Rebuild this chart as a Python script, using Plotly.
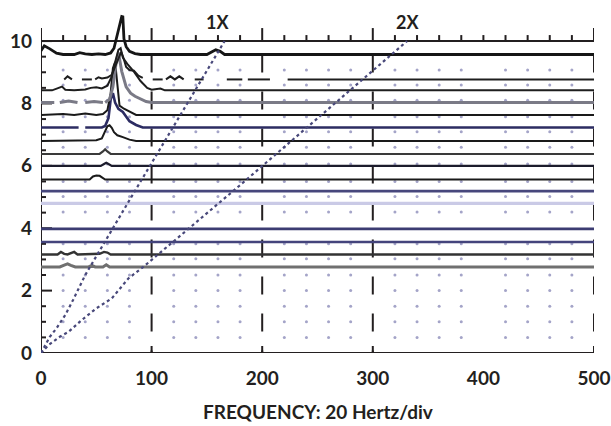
import plotly.graph_objects as go

# ---------------- data ----------------
# baseline (y) of every spectrum trace
levels = [9.57, 8.77, 8.42, 8.03, 7.63, 7.23, 6.80, 6.38, 6.00, 5.56, 5.19, 4.80, 3.98, 3.56, 3.16, 2.76]

# each trace: frequency points (Hz) and amplitude above its baseline (None = gap)
r957_f = [0, 3, 8, 14, 20, 30, 35, 40, 46, 52, 58, 63, 66, 69, 71, 73, 74, 75, 77, 80, 85, 90, 150, 154, 158, 162, 166, 500]
r957_a = [0.12, 0.28, 0.18, 0.04, 0.0, 0.0, 0.06, 0.02, 0.0, 0.02, 0.0, 0.05, 0.2, 0.6, 0.9, 1.22, 1.21, 0.5, 0.25, 0.1, 0.03, 0.0, 0.0, 0.08, 0.15, 0.1, 0.0, 0.0]

r877_f = [21, 24, 28, None, 37, 46, None, 49, 52, 55, 60, 64, 68, 71, 72.5, 74, 77, 80, 84, 88, 92, None,
          101, 110, None, 113, 117, 121, 125, 129, None, 139, 147, None, 168, 182, None, 187, 207, None, 223, 500]
r877_a = [0, 0.1, 0, None, 0, 0, None, 0, 0.07, 0.03, 0.06, 0.15, 0.5, 0.8, 0.88, 0.75, 0.4, 0.3, 0.28, 0.12, 0.05, None,
          0, 0, None, 0, 0.1, 0, 0.1, 0, None, 0, 0, None, 0, 0, None, 0, 0, None, 0, 0]

r842_f = [0, 10, 16, 19, 22, 30, 40, 45, 50, 55, 60, 64, 67, 70, 72, 74, 78, 84, 90, 96, 100, 108, 112, 116, 500]
r842_a = [0, 0, 0.08, 0.12, 0.02, 0, 0.03, 0.08, 0.1, 0.06, 0.15, 0.45, 0.9, 1.3, 1.35, 1.05, 0.85, 0.6, 0.3, 0.08, 0.02, 0.06, 0, 0, 0]

r803_f = [0, 12, None, 17, 25, 33, None, 40, 48, 56, None, 58, 62, 65, 68, 70, 73, 77, 81, 85, 90, 95, 100, 500]
r803_a = [0, 0, None, 0, 0.05, 0, None, 0, 0.03, 0, None, 0, 0.1, 0.5, 1.3, 1.6, 1.0, 0.5, 0.3, 0.2, 0.12, 0.03, 0, 0]

r763_f = [0, 20, 30, 40, 50, 56, 60, 63, 65, 67, 69, 71, 75, 80, 86, 500]
r763_a = [0, 0.03, 0, 0.05, 0, 0.03, 0.15, 0.7, 1.5, 1.7, 1.0, 0.3, 0.2, 0.1, 0, 0]

r723_f = [0, 34, None, 40, 55, 58, 61, 63, 65, 67, 70, 74, 80, 86, 92, 500]
r723_a = [0, 0, None, 0, 0, 0.05, 0.3, 0.9, 1.1, 0.8, 0.6, 0.5, 0.2, 0.08, 0, 0]

r680_f = [0, 40, 50, 55, 58, 60, 62, 64, 66, 69, 74, 80, 86, 500]
r680_a = [0, 0, 0.02, 0.08, 0.3, 0.47, 0.5, 0.42, 0.28, 0.18, 0.12, 0.04, 0, 0]

r638_f = [0, 53, 56, 58, 60, 63, 500]
r638_a = [0, 0, 0.08, 0.15, 0.08, 0, 0]

r600_f = [0, 54, 57, 59, 61, 64, 500]
r600_a = [0, 0, 0.06, 0.1, 0.06, 0, 0]

r556_f = [0, 44, 47, 50, 53, 56, 58, 500]
r556_a = [0, 0, 0.1, 0.13, 0.12, 0.04, 0, 0]

r519_f = [0, 500]
r519_a = [0, 0]

r480_f = [0, 500]
r480_a = [0, 0]

r398_f = [0, 500]
r398_a = [0, 0]

r356_f = [0, 500]
r356_a = [0, 0]

r316_f = [0, 15, 18, 21, 24, 27, 30, 33, 50, 53, 57, 60, 63, 500]
r316_a = [0, 0, 0.08, 0.02, 0, 0.03, 0.08, 0, 0, 0.02, 0.08, 0.06, 0, 0]

r276_f = [0, 17, 21, 24, 27, 31, 43, 46, 49, 56, 59, 62, 500]
r276_a = [0, 0, 0.06, 0.1, 0.05, 0, 0, 0.05, 0, 0, 0.07, 0, 0]

trace_f = [r957_f, r877_f, r842_f, r803_f, r763_f, r723_f, r680_f, r638_f,
           r600_f, r556_f, r519_f, r480_f, r398_f, r356_f, r316_f, r276_f]
trace_a = [r957_a, r877_a, r842_a, r803_a, r763_a, r723_a, r680_a, r638_a,
           r600_a, r556_a, r519_a, r480_a, r398_a, r356_a, r316_a, r276_a]

# faint dotted rows (low-level traces)
dot_levels = [0.5, 1.0, 1.5, 2.0, 2.5, 3.02, 3.5, 4.52, 5.02, 5.5, 6.06, 6.6, 7.09, 7.57, 8.1, 8.59, 9.07]
dot_freqs = [20, 40, 60, 80, 120, 140, 160, 180, 220, 240, 260, 280, 320, 340, 360, 380,
             420, 440, 460, 480]

# order lines 1X and 2X
x1_f = [0, 8, 14, 22, 29, 40, 85, 166]
x1_y = [0, 0.52, 0.79, 1.22, 1.70, 2.5, 5.2, 10]
x2_f = [0, 7, 17, 25, 37, 50, 64, 79, 92.5, 176, 331]
x2_y = [0, 0.26, 0.52, 0.68, 1.06, 1.43, 1.75, 2.39, 2.76, 5.26, 10]

x_ticks = [0, 100, 200, 300, 400, 500]
y_ticks = [0, 2, 4, 6, 8, 10]
grid_x = [100, 200, 300, 500]
top_major = [0, 100, 200, 300, 500]
order_labels = ["1X", "2X"]
order_label_x = [160, 331]

# ---------------- styles ----------------
trace_colors = ["#161616", "#1e1e1e", "#1e1e1e", "#7a7a86", "#1a1a1a", "#2c2c62", "#1a1a1a", "#3a3a3a",
                "#1c1c2c", "#1a1a1a", "#47477c", "#cacae6", "#3c3c72", "#44447c", "#333333", "#707070"]
trace_widths = [2.8, 2.0, 2.0, 3.0, 2.0, 2.6, 2.0, 2.2, 2.2, 2.0, 2.6, 3.2, 2.6, 2.6, 2.4, 3.0]

TXT = "#231f20"
FONT = "Lato"

fig = go.Figure()

def add_shape_line(x0, y0, x1, y1, width=2, dash="solid", color=TXT):
    fig.add_shape(type="line", xref="x", yref="y", x0=x0, y0=y0, x1=x1, y1=y1,
                  line=dict(color=color, width=width, dash=dash), layer="below")

# dashed vertical gridlines (dash pattern starting from the top trace)
for gx in grid_x:
    add_shape_line(gx, levels[0], gx, 0, width=2, dash="18px,19px")

# axis lines
add_shape_line(0, 0, 500, 0, width=2)
add_shape_line(0, 10, 500, 10, width=2)
add_shape_line(0, 0, 0, 10.42, width=2)

# left ticks: major every 2, minor every 0.5
px_x = 553 / 500.0
px_y = 340 / 10.9
for k in range(0, 21):
    v = k * 0.5
    ln = 11 if v in y_ticks else 5
    add_shape_line(0, v, ln / px_x, v, width=2)
# top ticks
for f in range(0, 501, 20):
    ln = 13 if f in top_major else 6
    add_shape_line(f, 10, f, 10 + ln / px_y, width=2)
# bottom ticks
for gx in grid_x:
    add_shape_line(gx, 0, gx, 7 / px_y, width=2)

# dotted rows
dx, dy = [], []
for lv in dot_levels:
    for f in dot_freqs:
        dx.append(f)
        dy.append(lv)
fig.add_trace(go.Scatter(x=dx, y=dy, mode="markers",
                         marker=dict(size=3, color="#a4a4c8", line=dict(width=0)),
                         hoverinfo="skip", showlegend=False))

# spectrum traces (bottom first so upper ones are drawn on top)
for i in reversed(range(len(levels))):
    ys = [None if a is None else levels[i] + a for a in trace_a[i]]
    fig.add_trace(go.Scatter(x=trace_f[i], y=ys, mode="lines",
                             line=dict(color=trace_colors[i], width=trace_widths[i]),
                             connectgaps=False, hoverinfo="skip", showlegend=False))

# order lines
for fx, fy in [(x1_f, x1_y), (x2_f, x2_y)]:
    fig.add_trace(go.Scatter(x=fx, y=fy, mode="lines",
                             line=dict(color="#48487a", width=2.2, dash="3px,3px"),
                             hoverinfo="skip", showlegend=False))

# order labels
for lab, lx in zip(order_labels, order_label_x):
    fig.add_annotation(x=lx, y=10.62, xref="x", yref="y", text="<b>%s</b>" % lab, showarrow=False,
                       font=dict(family=FONT, size=18, color=TXT), xanchor="center", yanchor="middle")

# axis title
fig.add_annotation(x=0.5, y=-(411 - 353) / 340.0, xref="paper", yref="paper",
                   text="<b>FREQUENCY: 20 Hertz/div</b>", showarrow=False,
                   font=dict(family=FONT, size=19, color=TXT), xanchor="center", yanchor="middle")

fig.update_layout(
    width=611, height=426,
    margin=dict(l=41, r=17, t=13, b=73, autoexpand=False),
    paper_bgcolor="white", plot_bgcolor="white",
    xaxis=dict(range=[0, 500], showgrid=False, zeroline=False, showline=False, automargin=False,
               tickvals=x_ticks, ticktext=["<b>%d</b>" % v for v in x_ticks], ticks="",
               ticklabelstandoff=12, tickfont=dict(family=FONT, size=19, color=TXT)),
    yaxis=dict(range=[0, 10.9], showgrid=False, zeroline=False, showline=False, automargin=False,
               tickvals=y_ticks, ticktext=["<b>%d</b>" % v for v in y_ticks], ticks="",
               ticklabelstandoff=8, tickfont=dict(family=FONT, size=19, color=TXT)),
)

fig.write_html("out.html", config={"displayModeBar": False},
               post_script="document.body.style.margin='0';document.body.style.overflow='hidden';")
